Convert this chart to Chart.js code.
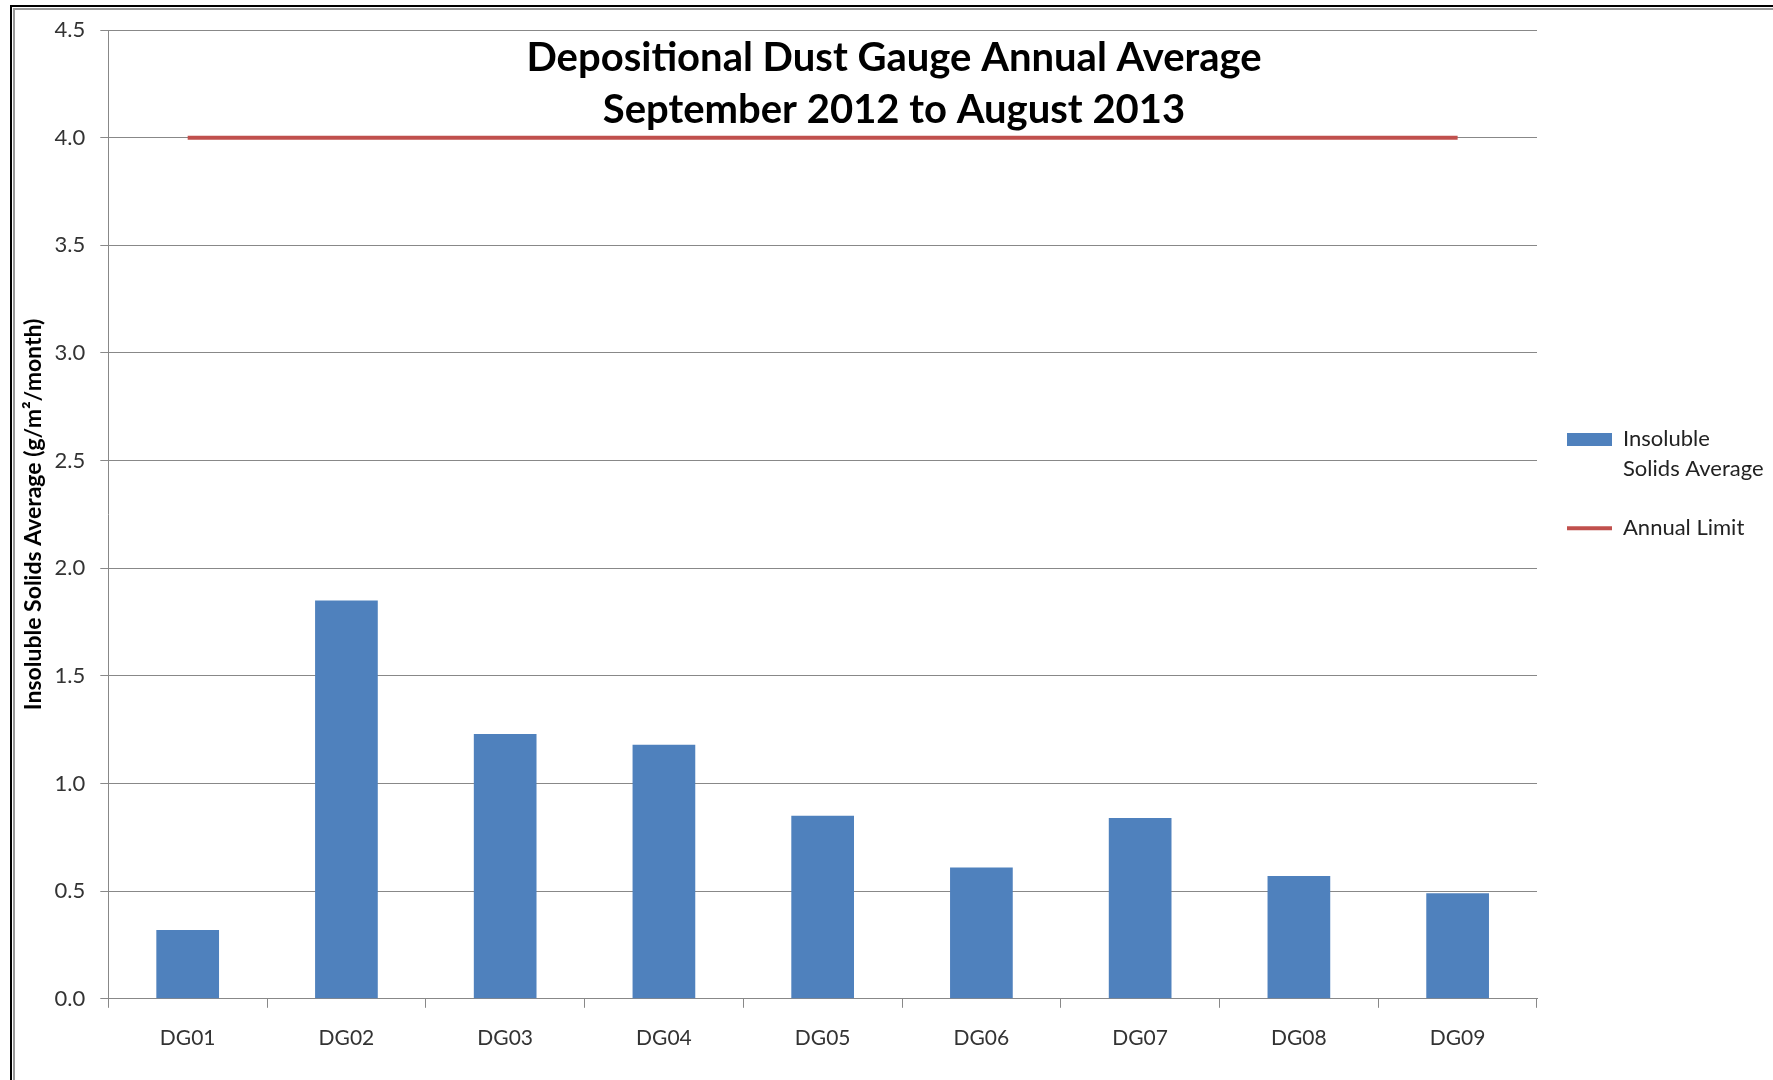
<!DOCTYPE html>
<html>
<head>
<meta charset="utf-8">
<script src="https://cdn.jsdelivr.net/npm/chart.js@4/dist/chart.umd.min.js"></script>
<style>
  body { margin: 0; background: #fff; overflow: hidden; }
  #wrap { position: relative; width: 1773px; height: 1080px; }
  .frame { position: absolute; width: 2000px; height: 2000px; box-sizing: border-box; pointer-events: none; }
  #outer { left: 10px; top: 5px; border: 2px solid #000; }
  #inner { left: 13px; top: 8px; border: 2px solid #999; }
</style>
</head>
<body>
<div id="wrap">
  <div class="frame" id="outer"></div>
  <div class="frame" id="inner"></div>
  <canvas id="grafica"></canvas>
</div>
<script>
// datos
const gauges = ['DG01', 'DG02', 'DG03', 'DG04', 'DG05', 'DG06', 'DG07', 'DG08', 'DG09'];
const solidsAverage = [0.32, 1.85, 1.23, 1.18, 0.85, 0.61, 0.84, 0.57, 0.49];
const annualLimit = [4.0, 4.0, 4.0, 4.0, 4.0, 4.0, 4.0, 4.0, 4.0];
const titleLines = ['Depositional Dust Gauge Annual Average', 'September 2012 to August 2013'];

const fuente = 'Lato';

// titulo dibujado encima del area del grafico (como en Excel)
const tituloPlugin = {
  id: 'tituloExcel',
  afterDraw(chart) {
    const ctx = chart.ctx;
    ctx.save();
    ctx.fillStyle = '#000';
    ctx.font = 'bold 40px ' + fuente;
    ctx.textAlign = 'center';
    ctx.textBaseline = 'middle';
    ctx.fillText(titleLines[0], 894, 58);
    ctx.fillText(titleLines[1], 894, 110);
    ctx.restore();
  }
};

const ctx = document.getElementById('grafica').getContext('2d');
const myChart = new Chart(ctx, {
  data: {
    labels: gauges,
    datasets: [
      {
        type: 'bar',
        label: 'Insoluble Solids Average',
        data: solidsAverage,
        backgroundColor: '#4F81BD',
        borderWidth: 0,
        categoryPercentage: 1,
        barPercentage: 0.395
      },
      {
        type: 'line',
        label: 'Annual Limit',
        data: annualLimit,
        borderColor: '#C0504D',
        backgroundColor: '#C0504D',
        borderWidth: 4,
        pointRadius: 0
      }
    ]
  },
  options: {
    responsive: true,
    maintainAspectRatio: false,
    animation: false,
    layout: {
      padding: { top: 30, left: 18, right: 0, bottom: 11 }
    },
    plugins: {
      tooltip: { enabled: false },
      legend: {
        position: 'right',
        align: 'start',
        maxWidth: 236,
        title: { display: true, text: '', padding: { top: 354, bottom: 0 } },
        labels: {
          usePointStyle: true,
          pointStyleWidth: 45,
          boxHeight: 13,
          padding: 30,
          color: '#222',
          font: { family: fuente, size: 22, lineHeight: 1.34 },
          generateLabels(chart) {
            const items = Chart.defaults.plugins.legend.labels.generateLabels(chart);
            items.forEach(item => {
              if (item.datasetIndex === 0) {
                item.text = ['Insoluble', 'Solids Average'];
                item.pointStyle = 'rect';
                item.lineWidth = 0;
              } else {
                item.pointStyle = 'line';
                item.lineWidth = 4;
              }
            });
            return items.sort((a, b) => a.datasetIndex - b.datasetIndex);
          }
        }
      }
    },
    scales: {
      x: {
        grid: { drawOnChartArea: false, tickLength: 9, color: '#888' },
        border: { color: '#888' },
        ticks: { color: '#333', padding: 18, font: { family: fuente, size: 21 } }
      },
      y: {
        min: 0,
        max: 4.5,
        ticks: {
          stepSize: 0.5,
          color: '#333',
          padding: 15,
          font: { family: fuente, size: 22 },
          callback: v => v.toFixed(1)
        },
        grid: { color: '#888', tickLength: 8 },
        border: { color: '#888' },
        title: {
          display: true,
          text: 'Insoluble Solids Average (g/m²/month)',
          color: '#000',
          padding: { top: 2, bottom: -8 },
          font: { family: fuente, size: 23, weight: 'bold' }
        }
      }
    }
  },
  plugins: [tituloPlugin]
});
</script>
</body>
</html>
